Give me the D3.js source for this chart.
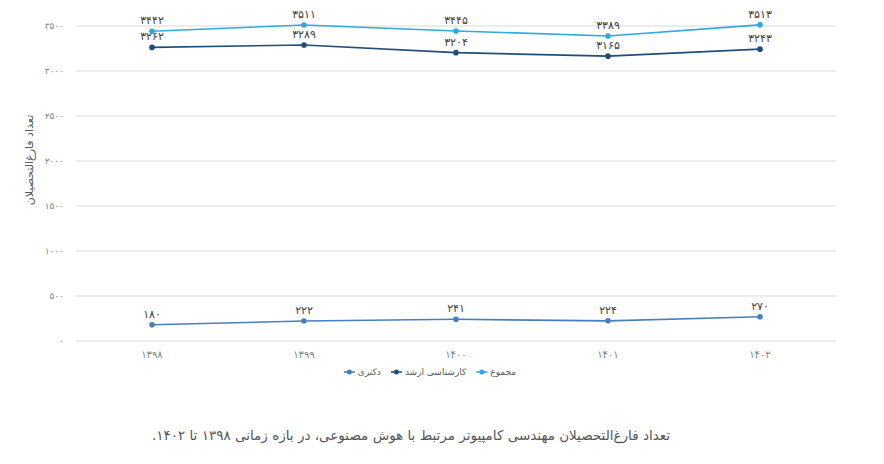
<!DOCTYPE html>
<html lang="fa">
<head>
<meta charset="utf-8">
<script src="https://cdn.jsdelivr.net/npm/d3@7"></script>
<style>
  body { margin: 0; background: #fff; }
  text { font-family: "DejaVu Sans", "Noto Sans", sans-serif; }
</style>
</head>
<body>
<script>
// chart data
var years = [1398, 1399, 1400, 1401, 1402];
var phd = [180, 222, 241, 224, 270];          // دکتری
var masters = [3262, 3289, 3204, 3165, 3243]; // کارشناسی ارشد
var total = [3442, 3511, 3445, 3389, 3513];   // مجموع
var yTicks = [0, 500, 1000, 1500, 2000, 2500, 3000, 3500];

var seriesNames = ["دکتری", "کارشناسی ارشد", "مجموع"];
var seriesColors = ["#4a7ec2", "#1f4e7a", "#2fa9e1"];

(function(){

    var width = 884,
        height = 464;

    //persian digits
    function fa(n){
        return String(n).replace(/[0-9]/g, function(d){ return "۰۱۲۳۴۵۶۷۸۹"[+d]; });
    }

    var svg = d3.select("body")
        .append("svg")
        .attr("width", width)
        .attr("height", height);

    var x = d3.scaleBand()
        .domain(years)
        .range([76, 836]);

    var y = d3.scaleLinear()
        .domain([0, 3500])
        .range([341, 26]);

    //gridlines
    svg.selectAll(".grid")
        .data(yTicks)
        .enter()
        .append("line")
        .attr("class", "grid")
        .attr("x1", 76)
        .attr("x2", 836)
        .attr("y1", function(d){ return y(d); })
        .attr("y2", function(d){ return y(d); })
        .attr("stroke", "#d9d9d9")
        .attr("stroke-width", 1);

    //y tick labels
    svg.selectAll(".ytick")
        .data(yTicks)
        .enter()
        .append("text")
        .attr("class", "ytick")
        .attr("x", 64)
        .attr("y", function(d){ return y(d); })
        .attr("dy", "0.35em")
        .attr("text-anchor", "end")
        .attr("font-size", 9)
        .attr("fill", "#7f7f7f")
        .text(function(d){ return fa(d); });

    //x tick labels
    svg.selectAll(".xtick")
        .data(years)
        .enter()
        .append("text")
        .attr("class", "xtick")
        .attr("x", function(d){ return x(d) + x.bandwidth() / 2; })
        .attr("y", 358)
        .attr("text-anchor", "middle")
        .attr("font-size", 10)
        .attr("fill", "#7f7f7f")
        .text(function(d){ return fa(d); });

    //y axis title
    svg.append("text")
        .attr("transform", "translate(33,160) rotate(-90)")
        .attr("text-anchor", "middle")
        .attr("direction", "rtl")
        .attr("font-size", 11)
        .attr("fill", "#595959")
        .text("تعداد فارغ‌التحصیلان");

    var line = d3.line()
        .x(function(d, i){ return x(years[i]) + x.bandwidth() / 2; })
        .y(function(d){ return y(d); });

    var allSeries = [phd, masters, total];

    allSeries.forEach(function(values, s){
        var g = svg.append("g");

        g.append("path")
            .datum(values)
            .attr("d", line)
            .attr("fill", "none")
            .attr("stroke", seriesColors[s])
            .attr("stroke-width", 1.6);

        g.selectAll("circle")
            .data(values)
            .enter()
            .append("circle")
            .attr("cx", function(d, i){ return x(years[i]) + x.bandwidth() / 2; })
            .attr("cy", function(d){ return y(d); })
            .attr("r", 2.8)
            .attr("fill", seriesColors[s]);

        g.selectAll(".lbl")
            .data(values)
            .enter()
            .append("text")
            .attr("class", "lbl")
            .attr("x", function(d, i){ return x(years[i]) + x.bandwidth() / 2; })
            .attr("y", function(d){ return y(d) - 7; })
            .attr("text-anchor", "middle")
            .attr("font-size", 11)
            .attr("fill", "#404040")
            .text(function(d){ return fa(d); });
    });

    //legend: marker then label, items laid out by measured width, centred
    var leg = svg.append("g").attr("transform", "translate(0,372)");
    var items = leg.selectAll(".legend")
        .data(seriesNames)
        .enter()
        .append("g")
        .attr("class", "legend");

    items.append("line")
        .attr("x1", 0)
        .attr("x2", 11)
        .attr("stroke", function(d, i){ return seriesColors[i]; })
        .attr("stroke-width", 1.6);

    items.append("circle")
        .attr("cx", 5.5)
        .attr("r", 2.5)
        .attr("fill", function(d, i){ return seriesColors[i]; });

    var labels = items.append("text")
        .attr("dy", "0.35em")
        .attr("text-anchor", "middle")
        .attr("direction", "rtl")
        .attr("font-size", 9)
        .attr("fill", "#595959")
        .text(function(d){ return d; });

    var widths = [];
    labels.each(function(){ widths.push(this.getComputedTextLength()); });
    var itemW = widths.map(function(w){ return 14 + w; });
    var gap = 10;
    var totalW = d3.sum(itemW) + gap * (itemW.length - 1);
    var cursor = 430 - totalW / 2;
    items.attr("transform", function(d, i){
        var t = "translate(" + cursor + ",0)";
        cursor += itemW[i] + gap;
        return t;
    });
    labels.attr("x", function(d, i){ return 14 + widths[i] / 2; });

    //caption
    svg.append("text")
        .attr("x", 411)
        .attr("y", 440)
        .attr("text-anchor", "middle")
        .attr("direction", "rtl")
        .attr("font-size", 13.5)
        .attr("fill", "#555")
        .text("تعداد فارغ‌التحصیلان مهندسی کامپیوتر مرتبط با هوش مصنوعی، در بازه زمانی ۱۳۹۸ تا ۱۴۰۲.");

})();
</script>
</body>
</html>
